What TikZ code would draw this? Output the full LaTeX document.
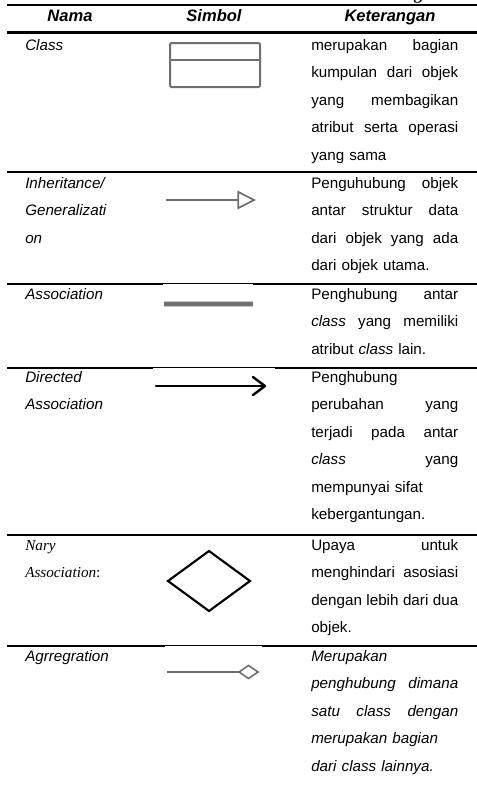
\documentclass[tikz,border=0pt]{standalone}
\usepackage{fontspec}
\setmainfont{Liberation Sans}
\newfontfamily\narifont{Liberation Serif}
\usetikzlibrary{arrows.meta}
\definecolor{symgray}{RGB}{112,112,112}
\definecolor{halogray}{RGB}{200,200,200}
% one justified line of the description column (interword glue restored so it can stretch)
\newcommand\jl[1]{{\spaceskip=0pt\xspaceskip=0pt\makebox[110.25pt][s]{#1}}}
\begin{document}
\begin{tikzpicture}[x=0.75pt,y=-0.75pt,
  rulel/.style={line width=1.7pt,black},
  cover/.style={fill=white,draw=none},
  hdr/.style={font=\fontsize{12.4pt}{14pt}\selectfont\bfseries\itshape,anchor=base,inner sep=0pt},
  lbl/.style={font=\fontsize{11.4pt}{20.625pt}\selectfont\itshape,anchor=base west,inner sep=0pt,text width=100pt,align=left},
  desc/.style={font=\fontsize{11.4pt}{20.625pt}\selectfont,anchor=base west,inner sep=0pt,text width=110.25pt,align=left},
  symline/.style={draw=symgray,line width=1.3pt}]
\useasboundingbox (0,0) rectangle (477,786);

% descender of the caption above the table
\node[font=\fontsize{13pt}{15pt}\selectfont\narifont\bfseries,anchor=base west,inner sep=0pt] (capg) at (413,-1) {g};

% horizontal rules
\draw[rulel] (7,5) -- (477,5);
\draw[rulel] (7,32.5) -- (477,32.5);
\draw[rulel] (7,172) -- (477,172);
\draw[rulel] (7,284) -- (477,284);
\draw[rulel] (7,368) -- (477,368);
\draw[rulel] (7,535) -- (477,535);
\draw[rulel] (7,646) -- (477,646);
% white backgrounds of the symbol images overlapping the rules
\fill[cover] (163,284) rectangle (253,330);
\fill[cover] (153,368) rectangle (275,400);
\fill[cover] (165,646) rectangle (262,690);

% header
\node[hdr] (hnama) at (70,21) {Nama};
\node[hdr] (hsimbol) at (214,21) {Simbol};
\node[hdr] (hket) at (390,21) {Keterangan};

% names
\node[lbl] (nclass) at (25,50) {Class};
\node[lbl] (ninh) at (25,188) {Inheritance/\\Generalizati\\on};
\node[lbl] (nassoc) at (25,299) {Association};
\node[lbl] (ndir) at (25,382) {Directed\\Association};
\node[lbl,font=\fontsize{11.4pt}{20.625pt}\selectfont\narifont] (nnary) at (25,550) {\textit{Nary}\\\textit{Association}:};
\node[lbl] (nagg) at (25,661) {Agrregration};

% descriptions
\node[desc] (dclass) at (311,50) {\jl{merupakan bagian}\\\jl{kumpulan dari objek}\\\jl{yang membagikan}\\\jl{atribut serta operasi}\\yang sama};
\node[desc] (dinh) at (311,188) {\jl{Penguhubung objek}\\\jl{antar struktur data}\\\jl{dari objek yang ada}\\dari objek utama.};
\node[desc] (dassoc) at (311,299) {\jl{Penghubung antar}\\\jl{\textit{class} yang memiliki}\\atribut \textit{class} lain.};
\node[desc] (ddir) at (311,382) {Penghubung\\\jl{perubahan yang}\\\jl{terjadi pada antar}\\\jl{\textit{class} yang}\\mempunyai sifat\\kebergantungan.};
\node[desc] (dnary) at (311,550) {\jl{Upaya untuk}\\\jl{menghindari asosiasi}\\\jl{dengan lebih dari dua}\\objek.};
\node[desc,font=\fontsize{11.4pt}{20.625pt}\selectfont\itshape] (dagg) at (311,661) {Merupakan\\\jl{penghubung dimana}\\\jl{satu class dengan}\\merupakan bagian\\dari class lainnya.};

% class symbol
\draw[draw=symgray,line width=1.5pt,rounded corners=1pt] (170,43) rectangle (260,87);
\draw[draw=symgray,line width=1.5pt] (170,59.5) -- (260,59.5);

% generalization
\coordinate (ginA) at (166,200);
\coordinate (ginB) at (256,200);
\draw[symline,-{Triangle[open,length=14pt,width=14pt]}] (ginA) -- (ginB);

% association
\coordinate (asA) at (164,304);
\coordinate (asB) at (253,304);
\draw[halogray,line width=5pt] (asA) -- (asB);
\draw[symgray,line width=2.4pt] (asA) -- (asB);

% directed association
\coordinate (daA) at (156,386);
\coordinate (daB) at (265,386);
\draw[line width=1.8pt,line cap=round] (daA) -- (daB);
\draw[line width=1.8pt,line cap=round,line join=round] (253,377) -- (daB) -- (253,395);

% n-ary association
\draw[line width=1.6pt,line join=miter] (168,581) -- (209,551) -- (250,581) -- (209,611) -- cycle;

% aggregation
\coordinate (agA) at (167,672);
\coordinate (agB) at (239,672);
\draw[symline,line width=1.5pt] (agA) -- (agB);
\draw[draw=symgray,fill=white,line width=1.2pt] (agB) -- (248.5,665.5) -- (258,672) -- (248.5,678.5) -- cycle;
\end{tikzpicture}
\end{document}
